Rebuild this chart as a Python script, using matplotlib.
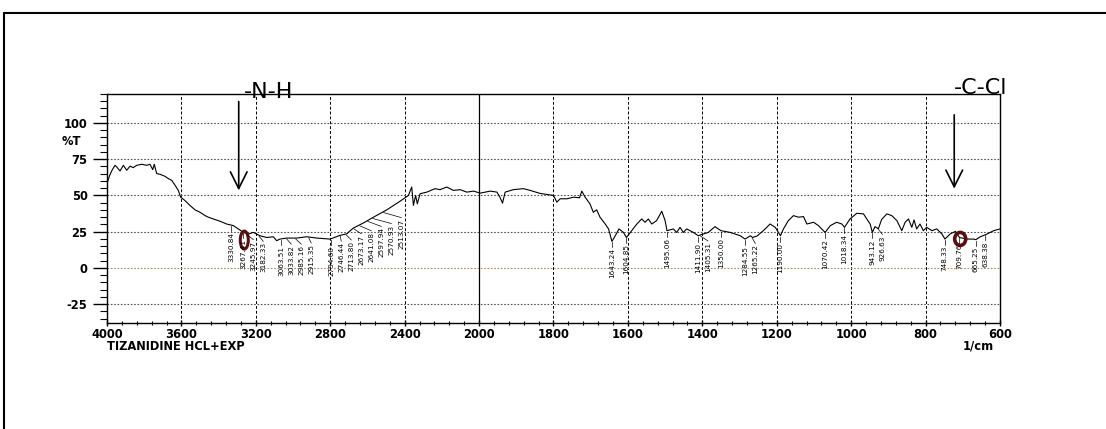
import numpy as np
import matplotlib
matplotlib.use('Agg')
import matplotlib.pyplot as plt
from matplotlib.patches import Ellipse, Rectangle
from matplotlib.lines import Line2D

# IR spectrum (1/cm, %T)
wavenumber = [4000, 3985, 3973, 3957, 3948, 3930, 3912, 3894, 3876, 3859, 3840, 3813,
              3787, 3769, 3754, 3746, 3733, 3715, 3688, 3670, 3652, 3634, 3617, 3604,
              3581, 3554, 3527, 3500, 3473, 3455, 3429, 3392, 3357, 3321, 3294, 3267,
              3240, 3213, 3178, 3141, 3106, 3088, 3070, 3034, 2980, 2926, 2873, 2801,
              2747, 2712, 2676, 2622, 2568, 2497, 2425, 2380, 2362, 2353, 2341, 2332,
              2317, 2281, 2237, 2210, 2174, 2138, 2102, 2066, 2030, 1997, 1970, 1952,
              1944, 1937, 1930, 1908, 1881, 1863, 1836, 1800, 1791, 1782, 1764, 1746,
              1730, 1724, 1715, 1702, 1693, 1684, 1675, 1661, 1652, 1643, 1634, 1624,
              1612, 1604, 1590, 1576, 1563, 1554, 1545, 1536, 1523, 1509, 1500, 1495,
              1478, 1469, 1460, 1451, 1442, 1424, 1411, 1405, 1384, 1366, 1350, 1325,
              1298, 1285, 1271, 1265, 1253, 1236, 1218, 1204, 1190, 1182, 1169, 1155,
              1142, 1128, 1119, 1101, 1088, 1070, 1056, 1039, 1025, 1018, 1003, 985,
              967, 949, 943, 936, 927, 918, 904, 891, 877, 864, 855, 846, 837, 831,
              824, 815, 806, 797, 783, 770, 756, 748, 734, 720, 709, 689, 671, 665,
              653, 638, 617, 600]
transmittance = [58.3, 64.0, 67.4, 70.8, 69.7, 66.9, 70.8, 67.4, 70.2, 69.2, 70.8, 71.5,
                 70.8, 71.5, 67.8, 71.5, 65.1, 64.6, 63.2, 61.6, 60.4, 57.0, 53.5, 48.8,
                 46.5, 43.1, 40.1, 38.4, 36.1, 35.0, 33.8, 32.2, 30.3, 29.2, 26.9, 24.5,
                 23.4, 24.5, 22.2, 21.0, 21.5, 18.8, 19.9, 20.6, 20.6, 21.5, 20.6, 19.9,
                 22.5, 23.5, 27.5, 31.0, 35.0, 40.0, 46.0, 50.0, 55.8, 43.1, 50.0, 44.2,
                 51.2, 52.3, 54.7, 54.0, 55.8, 53.5, 54.0, 52.3, 53.0, 51.6, 53.0, 52.3,
                 48.8, 44.7, 52.3, 54.0, 54.7, 53.5, 51.4, 50.0, 45.4, 47.7, 47.7, 48.8,
                 48.4, 53.0, 48.8, 44.2, 38.4, 40.1, 35.0, 30.3, 26.9, 18.3, 22.2, 26.9,
                 24.5, 21.0, 25.7, 30.3, 33.8, 31.5, 33.8, 30.3, 32.6, 39.1, 32.6, 25.7,
                 26.9, 24.5, 28.0, 24.5, 26.9, 24.5, 22.2, 22.8, 24.5, 28.5, 25.7, 24.5,
                 22.2, 19.9, 22.2, 21.0, 22.0, 25.7, 30.3, 28.0, 22.2, 26.9, 32.6, 36.1,
                 35.0, 35.4, 30.3, 31.5, 29.2, 24.5, 29.2, 31.5, 30.3, 28.0, 33.8, 37.7,
                 37.3, 30.3, 24.5, 28.5, 27.0, 33.5, 37.3, 36.1, 32.6, 25.7, 31.5, 33.8,
                 28.0, 33.1, 26.9, 30.3, 25.7, 28.0, 25.7, 26.9, 23.4, 19.9, 23.4, 25.2,
                 21.0, 19.9, 19.9, 19.5, 21.5, 23.0, 25.7, 26.9]

peak_wn = [3330.84, 3267.41, 3245.97, 3182.33, 3063.51, 3033.82, 2985.16, 2915.35,
           2794.60, 2746.44, 2713.80, 2673.17, 2641.08, 2597.94, 2570.93, 2513.07,
           1643.24, 1604.85, 1495.06, 1411.90, 1405.31, 1350.00, 1284.55, 1265.22,
           1190.00, 1070.42, 1018.34, 943.12, 926.63, 748.33, 709.76, 665.25, 638.38]
peak_text = ['%.2f' % p for p in peak_wn]

marked_wn = [3262, 707]
marked_t = [19.2, 20.0]

x_ticks = [4000, 3600, 3200, 2800, 2400, 2000, 1800, 1600, 1400, 1200, 1000, 800, 600]
y_ticks = [-25, 0, 25, 50, 75, 100]


# the spectrometer plots 4000-2000 at half the scale of 2000-600
def fwd(x):
    x = np.asarray(x, dtype=float)
    return np.where(x > 2000, 2000 + (x - 2000) / 2, x)


def inv(y):
    y = np.asarray(y, dtype=float)
    return np.where(y > 2000, 2000 + (y - 2000) * 2, y)


W, H = 1106, 429
fig = plt.figure(figsize=(W / 100, H / 100), dpi=100)
ax = fig.add_axes([107 / W, 1 - 323 / H, 893 / W, 229 / H])
ax.set_xscale('function', functions=(fwd, inv))
ax.set_xlim(4000, 600)
ax.set_ylim(-38, 120)

for x in x_ticks:
    if x == 2000:
        ax.axvline(x, color='black', lw=0.9)
    else:
        ax.axvline(x, color='black', lw=0.7, ls=(0, (3, 2)))
for y in y_ticks:
    col = '#9a9460' if y == 0 else '#555555'
    ax.axhline(y, color=col, lw=0.8, ls=(0, (1.5, 1.5)))

ax.plot(wavenumber, transmittance, color='black', lw=0.8)

tick_font = dict(family='DejaVu Sans', weight='bold', size=8.3)
ax.set_xticks(x_ticks)
ax.set_xticklabels([str(x) for x in x_ticks], fontdict=tick_font)
ax.set_xticks(list(np.arange(600, 2000, 40)) + list(np.arange(2080, 4000, 80)), minor=True)
ax.set_yticks(y_ticks)
ax.set_yticklabels([str(y) for y in y_ticks], fontdict=tick_font)
ax.set_yticks(np.arange(-35, 121, 5), minor=True)
ax.tick_params(axis='y', which='major', direction='out', length=10, width=1, pad=4)
ax.tick_params(axis='y', which='minor', direction='out', length=5, width=0.8)
ax.tick_params(axis='x', which='major', direction='inout', length=5, width=1, pad=1)
ax.tick_params(axis='x', which='minor', direction='inout', length=3, width=0.8)
for s in ax.spines.values():
    s.set_linewidth(1.0)

ax.text(-0.029, 87.5, '%T', transform=ax.get_yaxis_transform(), ha='right', va='center',
        **tick_font)
fig.text(107 / W, 1 - 346 / H, 'TIZANIDINE HCL+EXP', ha='left', va='center', **tick_font)
fig.text(994 / W, 1 - 346 / H, '1/cm', ha='right', va='center', **tick_font)

# peak labels, spread so they do not overlap
curve_wn = np.array(wavenumber[::-1], dtype=float)
curve_t = np.array(transmittance[::-1], dtype=float)
peak_t = np.interp(peak_wn, curve_wn, curve_t)
disp = ax.transData.transform(np.column_stack([peak_wn, peak_t]))
lab_x = disp[:, 0].copy()
for i in range(1, len(lab_x)):
    if lab_x[i] - lab_x[i - 1] < 10:
        lab_x[i] = lab_x[i - 1] + 10
for i, txt in enumerate(peak_text):
    x0, y0 = disp[i]
    top = y0 - 6
    fig.add_artist(Line2D([x0 / W, lab_x[i] / W], [(y0 - 1) / H, top / H],
                          color='black', lw=0.5))
    fig.text(lab_x[i] / W, (top - 1) / H, txt, rotation=90, ha='center', va='top',
             family=['Liberation Sans Narrow', 'DejaVu Sans'], size=5.2)

# red markers
mk = ax.transData.transform(np.column_stack([marked_wn, marked_t]))
for (cx, cy), (ew, eh, lw) in zip(mk, [(8, 18, 2.2), (11, 13, 2.6)]):
    fig.add_artist(Ellipse((cx / W, cy / H), ew / W, eh / H, transform=fig.transFigure,
                           fill=False, ec='#5a0e0e', lw=lw))

# group annotations
arrow = dict(arrowstyle='->,head_length=1.2,head_width=0.6', color='black', lw=1.2,
             shrinkA=0, shrinkB=0)
ax.annotate('', xy=(3292, 53.5), xytext=(3292, 114.8), arrowprops=arrow,
            annotation_clip=False)
ax.annotate('', xy=(723, 54.7), xytext=(723, 105.6), arrowprops=arrow,
            annotation_clip=False)
ax.text(3129, 121.5, '-N-H', ha='center', va='center', clip_on=False,
        family=['Liberation Sans Narrow', 'DejaVu Sans'], size=16)
ax.text(653, 124, '-C-Cl', ha='center', va='center', clip_on=False,
        family=['Liberation Sans Narrow', 'DejaVu Sans'], size=16)

# outer frame of the figure
fig.add_artist(Rectangle((4 / W, -0.05), 1.1, 1.05 - 13 / H, transform=fig.transFigure,
                         fill=False, ec='black', lw=1.5))

fig.savefig('out.png', dpi=100)
